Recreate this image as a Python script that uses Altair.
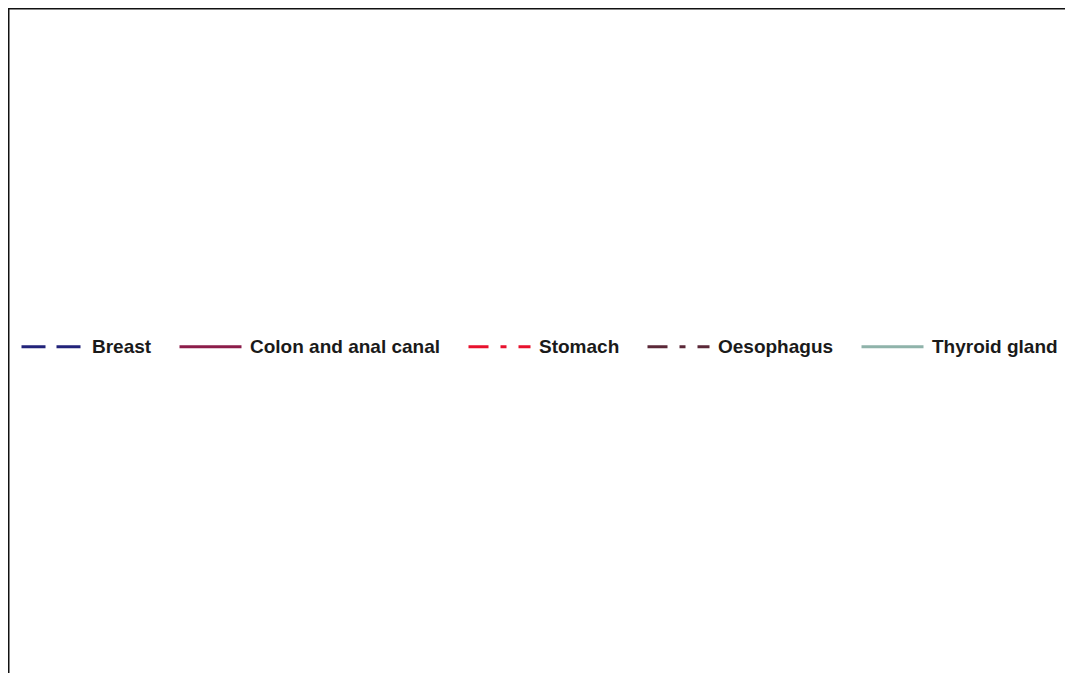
import altair as alt
import pandas as pd

series = ["Breast", "Colon and anal canal", "Stomach", "Oesophagus", "Thyroid gland"]
colors = ["#22237a", "#8c1c4a", "#e8112d", "#5b2838", "#8fb3aa"]
dashes = [[24, 11], [1, 0], [20, 12, 6, 12], [20, 12, 6, 12], [1, 0]]
x_vals = [0, 0, 0, 0, 0]
y_vals = [0, 0, 0, 0, 0]

df = pd.DataFrame({"series": series, "x": x_vals, "y": y_vals})

W, H = 1057, 665

lines = alt.Chart(df).mark_line(strokeWidth=3).encode(
    x=alt.X("x:Q", axis=None, scale=alt.Scale(domain=[0, 1])),
    y=alt.Y("y:Q", axis=None, scale=alt.Scale(domain=[0, 1])),
    color=alt.Color(
        "series:N",
        scale=alt.Scale(domain=series, range=colors),
        legend=alt.Legend(
            title=None,
            orient="none",
            legendX=12,
            legendY=306,
            direction="horizontal",
            columns=5,
            symbolType="stroke",
            symbolSize=3844,
            symbolStrokeWidth=3,
            labelFont="Liberation Sans",
            labelFontWeight="bold",
            labelFontSize=19,
            labelColor="#1a1a1a",
            labelOffset=7,
            labelLimit=400,
            columnPadding=21,
        ),
    ),
    strokeDash=alt.StrokeDash(
        "series:N",
        scale=alt.Scale(domain=series, range=dashes),
        legend=None,
    ),
)

border = alt.Chart(pd.DataFrame({"k": [0]})).mark_rule(color="#111111", strokeWidth=3).encode(
    x=alt.value(0), x2=alt.value(W), y=alt.value(0), y2=alt.value(0)
)
border2 = alt.Chart(pd.DataFrame({"k": [0]})).mark_rule(color="#111111", strokeWidth=3).encode(
    x=alt.value(0), x2=alt.value(0), y=alt.value(0), y2=alt.value(H)
)

chart = alt.layer(lines, border, border2).properties(
    width=W, height=H, autosize=alt.AutoSizeParams(type="none"), padding=0
).configure_view(stroke=None).configure(background="white")

chart.save("out.html", embed_options={"renderer": "svg", "actions": False})
